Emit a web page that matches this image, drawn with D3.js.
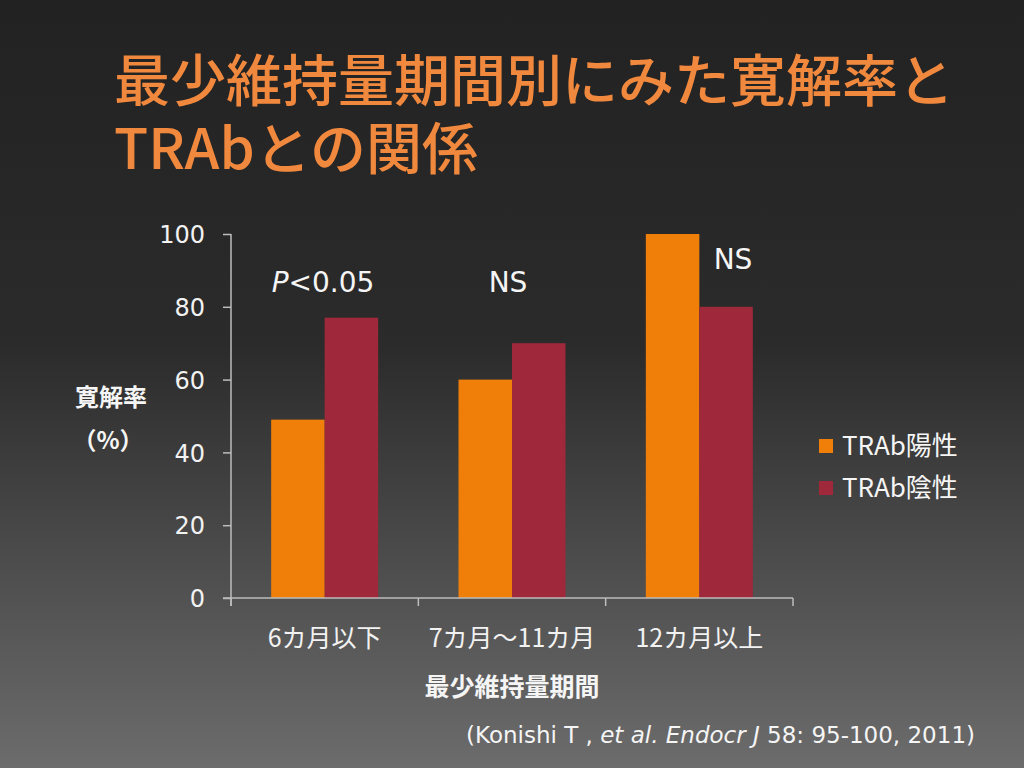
<!DOCTYPE html>
<html>
<head>
<meta charset="utf-8">
<script src="https://cdn.jsdelivr.net/npm/d3@7"></script>
<style>
html, body { margin: 0; padding: 0; background: #222; }
svg { display: block; }
</style>
</head>
<body>
<div id="chart"></div>
<script>
var categories = ["6カ月以下", "7カ月～11カ月", "12カ月以上"];
var seriesNames = ["TRAb陽性", "TRAb陰性"];
var positive = [49, 60, 100];
var negative = [77, 70, 80];
var yTicks = [0, 20, 40, 60, 80, 100];
var notes = [{ cat: "6カ月以下", y: 84, label: "<0.05", italic: "P" },
             { cat: "7カ月～11カ月", y: 84, label: "NS", italic: "" },
             { cat: "12カ月以上", y: 90.5, label: "NS", italic: "" }];
var colors = ["#f07f09", "#9f283a"];

var W = 1024, H = 768;
var svg = d3.select("#chart").append("svg").attr("width", W).attr("height", H);

// 배경 그라데이션
var grad = svg.append("defs").append("linearGradient")
  .attr("id", "bg").attr("x1", 0).attr("y1", 0).attr("x2", 0).attr("y2", 1);
grad.append("stop").attr("offset", "0%").attr("stop-color", "#222222");
grad.append("stop").attr("offset", "45%").attr("stop-color", "#2b2b2b");
grad.append("stop").attr("offset", "100%").attr("stop-color", "#6c6c6c");
svg.append("rect").attr("width", W).attr("height", H).attr("fill", "url(#bg)");

// 제목
var title = svg.append("text")
  .attr("fill", "#f0883e")
  .style("font-family", "'Noto Sans CJK JP'").style("font-size", "56px").style("font-weight", 500);
title.append("tspan").attr("x", 114).attr("y", 101).text("最少維持量期間別にみた寛解率と");
title.append("tspan").attr("x", 114).attr("y", 169).text("TRAbとの関係");

var x0 = 231, x1 = 793, yTop = 234, yBot = 598;
var x = d3.scaleBand().domain(categories).range([x0, x1]).paddingInner(0).paddingOuter(0);
var y = d3.scaleLinear().domain([0, 100]).range([yBot, yTop]);
var barW = 53.5;
var xs = d3.scaleBand().domain(seriesNames).range([0, barW * 2]);

var groups = svg.selectAll("g.grp").data(categories).enter().append("g")
  .attr("transform", function(d) { return "translate(" + (x(d) + x.bandwidth() / 2 - barW) + ",0)"; });

groups.append("rect")
  .attr("x", xs(seriesNames[0])).attr("width", xs.bandwidth())
  .attr("y", function(d, i) { return y(positive[i]); })
  .attr("height", function(d, i) { return yBot - y(positive[i]); })
  .attr("fill", colors[0]);
groups.append("rect")
  .attr("x", xs(seriesNames[1])).attr("width", xs.bandwidth())
  .attr("y", function(d, i) { return y(negative[i]); })
  .attr("height", function(d, i) { return yBot - y(negative[i]); })
  .attr("fill", colors[1]);

// 축
var axisColor = "#bdbdbd";
var yAxis = svg.append("g").attr("transform", "translate(" + x0 + ",0)")
  .call(d3.axisLeft(y).tickValues(yTicks).tickSize(8).tickPadding(18));
var xAxis = svg.append("g").attr("transform", "translate(0," + yBot + ")")
  .call(d3.axisBottom(x).tickSize(0).tickPadding(31));
yAxis.select(".domain").attr("stroke", axisColor).attr("stroke-width", 1.5).attr("d", "M0," + yTop + "V" + (yBot + 8));
yAxis.selectAll(".tick line").attr("stroke", axisColor).attr("stroke-width", 1.5);
xAxis.select(".domain").attr("stroke", axisColor).attr("stroke-width", 1.5).attr("d", "M" + (x0 - 8) + ",0H" + x1);
svg.selectAll("line.xt").data(d3.range(categories.length + 1)).enter().append("line")
  .attr("x1", function(i) { return x0 + i * x.bandwidth(); })
  .attr("x2", function(i) { return x0 + i * x.bandwidth(); })
  .attr("y1", yBot).attr("y2", yBot + 8)
  .attr("stroke", axisColor).attr("stroke-width", 1.5);

svg.selectAll(".tick text").attr("fill", "#f2f2f2");
yAxis.selectAll(".tick text").attr("dy", "0.36em")
  .style("font-family", "'DejaVu Sans'").style("font-size", "24px");
xAxis.selectAll(".tick text").attr("dy", "0.71em")
  .style("font-family", "'Noto Sans CJK JP'").style("font-size", "25px");

// 축 제목
var lab = { fill: "#f5f5f5", font: "'Noto Sans CJK JP'" };
svg.append("text").attr("x", 111).attr("y", 406).attr("text-anchor", "middle")
  .attr("fill", lab.fill).style("font-family", lab.font).style("font-weight", "bold")
  .style("font-size", "24px").text("寛解率");
svg.append("text").attr("x", 108).attr("y", 449).attr("text-anchor", "middle")
  .attr("fill", lab.fill).style("font-family", lab.font).style("font-weight", "bold")
  .style("font-size", "24px").text("（%）");
svg.append("text").attr("x", 512).attr("y", 696).attr("text-anchor", "middle")
  .attr("fill", lab.fill).style("font-family", lab.font).style("font-weight", "bold")
  .style("font-size", "25px").text("最少維持量期間");

// 유의성 표시
var notePos = [323, 508, 733];
var nt = svg.selectAll("text.note").data(notes).enter().append("text")
  .attr("class", "note")
  .attr("x", function(d, i) { return notePos[i]; })
  .attr("y", function(d) { return y(d.y); })
  .attr("text-anchor", "middle").attr("fill", "#f5f5f5")
  .style("font-family", "'DejaVu Sans'").style("font-size", "28px");
nt.append("tspan").style("font-style", "italic").text(function(d) { return d.italic; });
nt.append("tspan").text(function(d) { return d.label; });

// 범례
var leg = svg.selectAll("g.leg").data(seriesNames).enter().append("g")
  .attr("transform", function(d, i) { return "translate(819," + (439 + i * 42) + ")"; });
leg.append("rect").attr("width", 14).attr("height", 14).attr("fill", function(d, i) { return colors[i]; });
leg.append("text").attr("x", 23).attr("y", 7).attr("dy", "0.36em")
  .attr("fill", "#f5f5f5").style("font-family", "'Noto Sans CJK JP'").style("font-size", "26px")
  .text(function(d) { return d; });

// 출처
var cite = svg.append("text").attr("x", 975).attr("y", 743).attr("text-anchor", "end")
  .attr("fill", "#f5f5f5").style("font-family", "'DejaVu Sans'").style("font-size", "23px");
cite.append("tspan").text("(Konishi T , ");
cite.append("tspan").style("font-style", "italic").text("et al. Endocr J");
cite.append("tspan").text(" 58: 95-100, 2011)");
</script>
</body>
</html>
